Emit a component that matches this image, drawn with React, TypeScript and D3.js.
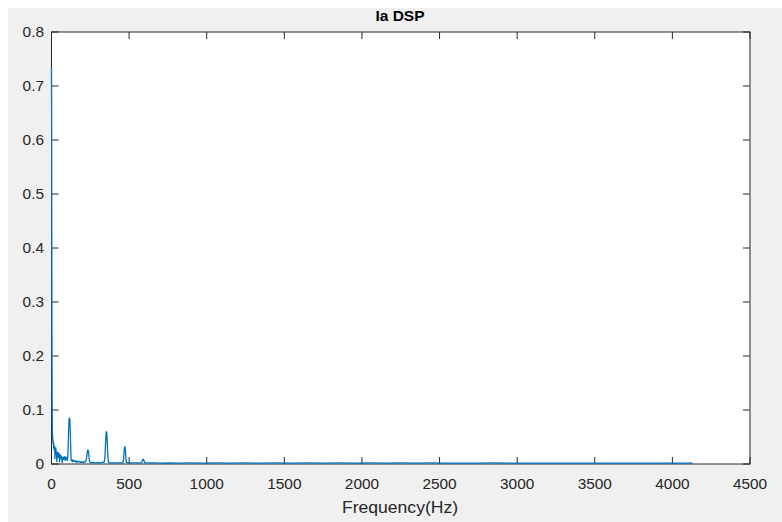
import React from "react";
import * as d3 from "d3";

const title = "Ia DSP";
const xLabel = "Frequency(Hz)";
const xTicks = [0, 500, 1000, 1500, 2000, 2500, 3000, 3500, 4000, 4500];
const yTicks = [0, 0.1, 0.2, 0.3, 0.4, 0.5, 0.6, 0.7, 0.8];

const freqs = [
  0, 1, 2, 3, 4, 5, 6, 7, 8, 10, 12, 14, 16, 18, 20, 22, 24, 26, 28, 30, 32, 34, 36, 38, 40,
  42, 44, 46, 48, 50, 52, 54, 56, 58, 60, 62, 64, 66, 68, 70, 72, 74, 76, 78, 80, 82, 84, 86,
  88, 90, 92, 94, 96, 98, 100, 102, 104, 106, 108, 110, 112, 114, 116, 118, 120, 122, 124, 126,
  128, 132, 136, 140, 145, 150, 155, 160, 165, 170, 175, 180, 185, 190, 195, 200, 205, 210, 215,
  220, 224, 228, 231, 234, 237, 240, 243, 246, 250, 260, 270, 280, 290, 300, 310, 320, 330, 340,
  344, 347, 350, 353, 356, 359, 362, 365, 370, 380, 400, 420, 440, 460, 464, 467, 470, 473, 476,
  479, 482, 490, 520, 560, 580, 584, 588, 591, 594, 598, 602, 620, 660, 700, 760, 820, 900, 980,
  1060, 1150, 1250, 1350, 1450, 1550, 1650, 1750, 1850, 1950, 2050, 2150, 2250, 2350, 2450, 2550,
  2650, 2750, 2850, 2950, 3050, 3150, 3250, 3350, 3450, 3550, 3650, 3750, 3850, 3950, 4050, 4130,
];
const psd = [
  0.735, 0.62, 0.4, 0.22, 0.12, 0.08, 0.06, 0.045, 0.05, 0.038, 0.042, 0.03, 0.036, 0.025, 0.032,
  0.01, 0.028, 0.024, 0.03, 0.018, 0.022, 0.004, 0.02, 0.016, 0.022, 0.013, 0.018, 0.012, 0.02,
  0.014, 0.004, 0.016, 0.012, 0.017, 0.011, 0.014, 0.009, 0.013, 0.003, 0.012, 0.009, 0.011, 0.008,
  0.012, 0.01, 0.014, 0.008, 0.011, 0.007, 0.012, 0.009, 0.013, 0.008, 0.01, 0.011, 0.007, 0.012,
  0.02, 0.04, 0.062, 0.078, 0.084, 0.085, 0.082, 0.07, 0.05, 0.028, 0.012, 0.006, 0.008, 0.004,
  0.007, 0.005, 0.006, 0.004, 0.006, 0.003, 0.005, 0.004, 0.005, 0.003, 0.004, 0.003, 0.004, 0.003,
  0.004, 0.003, 0.005, 0.008, 0.016, 0.023, 0.026, 0.025, 0.018, 0.009, 0.004, 0.003, 0.002, 0.003,
  0.002, 0.002, 0.003, 0.002, 0.002, 0.003, 0.004, 0.012, 0.03, 0.05, 0.06, 0.058, 0.042, 0.02,
  0.006, 0.002, 0.002, 0.002, 0.002, 0.002, 0.002, 0.008, 0.02, 0.03, 0.032, 0.026, 0.012, 0.003,
  0.002, 0.002, 0.002, 0.002, 0.005, 0.008, 0.009, 0.008, 0.004, 0.002, 0.002, 0.0022, 0.0018,
  0.002, 0.0017, 0.002, 0.0018, 0.002, 0.0017, 0.0019, 0.0017, 0.0019, 0.0017, 0.0019, 0.0017,
  0.0019, 0.0017, 0.0019, 0.0017, 0.0019, 0.0017, 0.0019, 0.0017, 0.0018, 0.0017, 0.0019, 0.0017,
  0.0018, 0.0017, 0.0018, 0.0017, 0.0018, 0.0017, 0.0018, 0.0017, 0.0018, 0.0017, 0.0018, 0.0017,
];

const W = 782;
const H = 522;
const L = 51.5;
const R = 750;
const T = 32;
const B = 464;
const AX = "#262626";
const FONT = "'Liberation Sans', Arial, Helvetica, sans-serif";
const SX = 1.1;

export default function App() {
  const x = d3.scaleLinear().domain([0, 4500]).range([L, R]);
  const y = d3.scaleLinear().domain([0, 0.8]).range([B, T]);
  const data = freqs
    .map((f, i) => [f, psd[i]] as [number, number])
    .filter((d) => Number.isFinite(d[1]));
  const line = d3
    .line<[number, number]>()
    .x((d) => x(d[0]))
    .y((d) => y(d[1]));
  const tl = 7;
  return (
    <svg
      width={W}
      height={H}
      style={{ position: "fixed", left: 0, top: 0, display: "block" }}
    >
      <rect x={0} y={0} width={W} height={H} fill="#ffffff" />
      <rect x={8} y={8} width={W - 8} height={H - 8} fill="#f0f0f0" />
      <rect x={L} y={T} width={R - L} height={B - T} fill="#ffffff" />
      {xTicks.map((t) => (
        <g key={"x" + t}>
          <line x1={x(t)} x2={x(t)} y1={B} y2={B - tl} stroke={AX} strokeWidth={1} />
          <line x1={x(t)} x2={x(t)} y1={T} y2={T + tl} stroke={AX} strokeWidth={1} />
          <text
            transform={`translate(${x(t)},${489}) scale(${SX},1)`}
            textAnchor="middle"
            fontFamily={FONT}
            fontSize={14}
            fill={AX}
          >
            {t}
          </text>
        </g>
      ))}
      {yTicks.map((t) => (
        <g key={"y" + t}>
          <line x1={L} x2={L + tl} y1={y(t)} y2={y(t)} stroke={AX} strokeWidth={1} />
          <line x1={R} x2={R - tl} y1={y(t)} y2={y(t)} stroke={AX} strokeWidth={1} />
          <text
            transform={`translate(${44},${y(t) + 5}) scale(${SX},1)`}
            textAnchor="end"
            fontFamily={FONT}
            fontSize={14}
            fill={AX}
          >
            {t === 0 ? "0" : d3.format(".1f")(t)}
          </text>
        </g>
      ))}
      <rect x={L} y={T} width={R - L} height={B - T} fill="none" stroke={AX} strokeWidth={1} />
      <path d={line(data) || ""} fill="none" stroke="#0072BD" strokeWidth={1.3} strokeLinejoin="round" />
      <text
        x={400}
        y={21}
        textAnchor="middle"
        fontFamily={FONT}
        fontSize={15.5}
        fontWeight="bold"
        fill="#000000"
      >
        {title}
      </text>
      <text
        transform={`translate(${400},${513}) scale(${SX},1)`}
        textAnchor="middle"
        fontFamily={FONT}
        fontSize={16}
        fill={AX}
      >
        {xLabel}
      </text>
    </svg>
  );
}
